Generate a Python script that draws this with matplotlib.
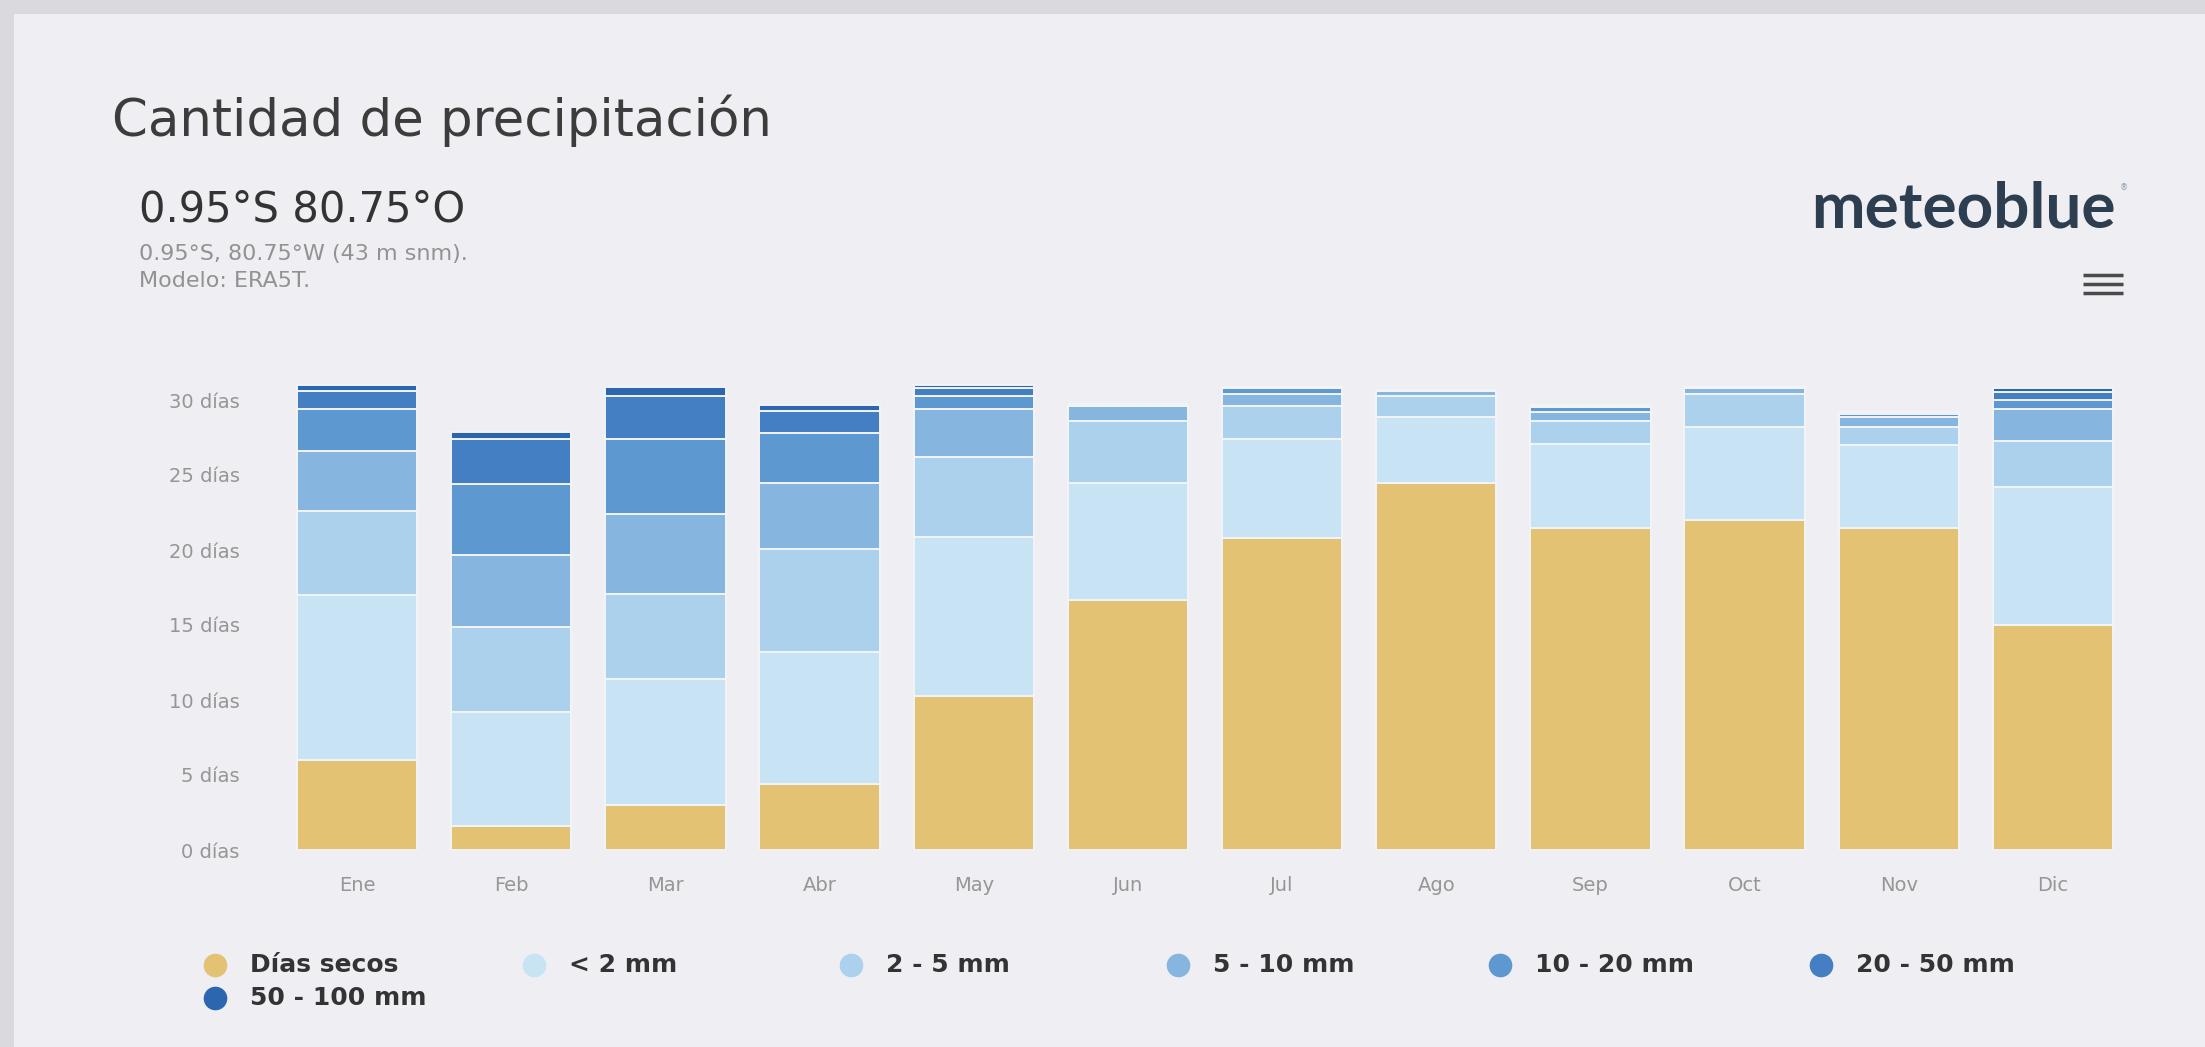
import matplotlib
matplotlib.use('Agg')
import matplotlib.pyplot as plt
import numpy as np
from matplotlib.lines import Line2D
from matplotlib.patches import Rectangle

W, H = 2205, 1047

months = ['Ene', 'Feb', 'Mar', 'Abr', 'May', 'Jun', 'Jul', 'Ago', 'Sep', 'Oct', 'Nov', 'Dic']

# days per month in each class
dry      = [6.0, 1.6, 3.0, 4.4, 10.3, 16.7, 20.8, 24.5, 21.5, 22.0, 21.5, 15.0]
lt2      = [11.0, 7.6, 8.4, 8.8, 10.6, 7.8, 6.6, 4.4, 5.6, 6.2, 5.5, 9.2]
mm2_5    = [5.6, 5.7, 5.7, 6.9, 5.3, 4.1, 2.2, 1.4, 1.5, 2.2, 1.2, 3.1]
mm5_10   = [4.0, 4.8, 5.3, 4.4, 3.2, 1.0, 0.8, 0.3, 0.6, 0.4, 0.7, 2.1]
mm10_20  = [2.8, 4.7, 5.0, 3.3, 0.9, 0.1, 0.4, 0.1, 0.3, 0.1, 0.2, 0.6]
mm20_50  = [1.2, 3.0, 2.9, 1.5, 0.5, 0.0, 0.1, 0.0, 0.1, 0.0, 0.1, 0.5]
mm50_100 = [0.4, 0.5, 0.6, 0.4, 0.2, 0.0, 0.0, 0.0, 0.05, 0.0, 0.0, 0.3]

series_labels = ['Días secos', '< 2 mm', '2 - 5 mm', '5 - 10 mm', '10 - 20 mm', '20 - 50 mm', '50 - 100 mm']
ytick_vals = [0, 5, 10, 15, 20, 25, 30]
ytick_labels = ['0 días', '5 días', '10 días', '15 días', '20 días', '25 días', '30 días']

colors = ['#E4C274', '#C8E4F4', '#ABD1EC', '#86B6DF', '#5E98D0', '#447FC3', '#2B66AE']
bg = '#EEEEF3'

plt.rcParams['font.family'] = ['DejaVu Sans']


def fx(x):
    return x / W


def fy(y):
    return 1 - y / H


fig = plt.figure(figsize=(W / 100, H / 100), dpi=100)
fig.patch.set_facecolor('#D9D9DE')
fig.add_artist(Rectangle((fx(14), 0), 1, fy(14), transform=fig.transFigure,
                         facecolor=bg, edgecolor='none', zorder=-10))

ax = fig.add_axes([fx(280), fy(850), fx(2130) - fx(280), (850 - 377.5) / H])
ax.set_facecolor(bg)

x = np.arange(len(months))
bottom = np.zeros(len(months))
all_series = [dry, lt2, mm2_5, mm5_10, mm10_20, mm20_50, mm50_100]
for vals, col, lab in zip(all_series, colors, series_labels):
    vals = np.array(vals)
    ax.bar(x, vals, bottom=bottom, width=0.78, color=col, edgecolor='#F2F4F8',
           linewidth=1.4, label=lab)
    bottom += vals

ax.set_xlim(-0.5, len(months) - 0.5)
ax.set_ylim(0, 31.5)
ax.set_yticks(ytick_vals)
ax.set_yticklabels(ytick_labels)
ax.set_xticks(x)
ax.set_xticklabels(months)
ax.tick_params(axis='y', length=0, pad=29, labelsize=14, labelcolor='#969696')
ax.tick_params(axis='x', length=0, pad=19, labelsize=14, labelcolor='#969696')
for s in ax.spines.values():
    s.set_visible(False)

# header texts
fig.text(fx(112), fy(136), 'Cantidad de precipitación', fontsize=37, color='#3c3c3c', va='baseline')
fig.text(fx(139), fy(221), '0.95°S 80.75°O', fontsize=30, color='#333333', va='baseline')
fig.text(fx(139), fy(260), '0.95°S, 80.75°W (43 m snm).', fontsize=16, color='#929292', va='baseline')
fig.text(fx(139), fy(287), 'Modelo: ERA5T.', fontsize=16, color='#929292', va='baseline')
fig.text(fx(2116), fy(227), 'meteoblue', fontsize=46, color='#2d3e50', fontweight='bold',
         family=['Lato', 'DejaVu Sans'], ha='right', va='baseline')
fig.text(fx(2120), fy(190), '®', fontsize=6, color='#8a9aaa', va='baseline')

# menu icon
for yy in [275, 284, 293]:
    fig.add_artist(Line2D([fx(2083), fx(2123)], [fy(yy), fy(yy)], transform=fig.transFigure,
                          color='#4a4a4a', linewidth=2.5, solid_capstyle='butt'))

# legend laid out like the original (fixed column width, wraps to 2nd row)
leg_pos = [(215, 965), (534, 965), (851, 965), (1178, 965), (1500, 965), (1821, 965), (215, 998)]
for (lx, ly), col, lab in zip(leg_pos, colors, series_labels):
    fig.add_artist(Line2D([fx(lx)], [fy(ly)], transform=fig.transFigure, marker='o',
                          markersize=16, color=col, linestyle='none'))
    fig.text(fx(lx + 35), fy(ly), lab, fontsize=18, fontweight='bold', color='#333333', va='center')

fig.savefig('out.png', dpi=100, facecolor=fig.get_facecolor())
